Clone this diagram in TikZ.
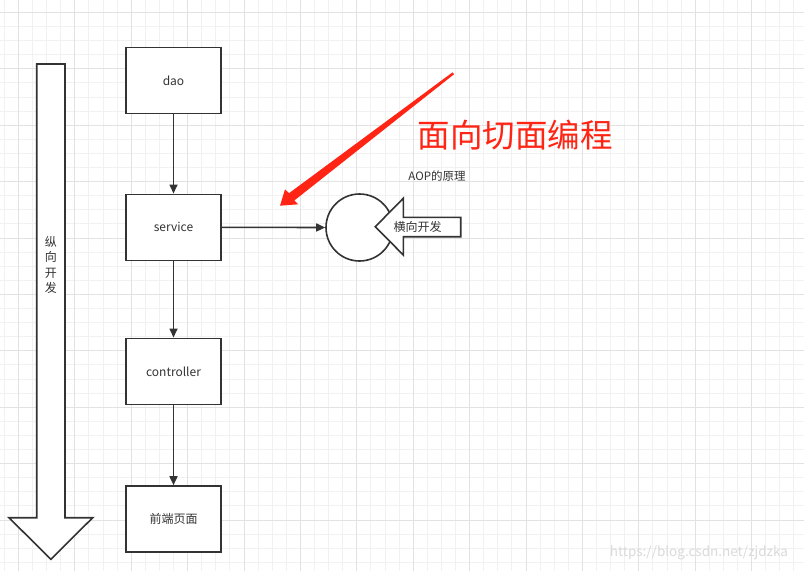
\documentclass[tikz,border=0pt]{standalone}
\usepackage{fontspec}
\setmainfont{Noto Sans CJK SC}
\usetikzlibrary{arrows.meta}
\definecolor{ink}{HTML}{333333}
\definecolor{gridminor}{HTML}{F1F1F1}
\definecolor{gridmajor}{HTML}{E2E2E2}
\definecolor{annot}{HTML}{FF2414}
\definecolor{wmark}{HTML}{DADADA}
\tikzset{
  box/.style={draw=ink, line width=1.6pt, fill=white, minimum width=95pt, minimum height=66pt, inner sep=0pt, text=ink, font=\fontsize{12}{14}\selectfont},
  conn/.style={draw=ink, line width=1.6pt, -{Triangle[length=9pt,width=8pt]}},
  shapeline/.style={draw=ink, line width=1.6pt, fill=white, line join=miter},
  lbl/.style={text=ink, inner sep=0pt, font=\fontsize{12}{14}\selectfont},
}
\begin{document}
\begin{tikzpicture}[x=1pt,y=-1pt]
\useasboundingbox (0,0) rectangle (804,571);
\fill[white] (0,0) rectangle (804,571);
% grid
\foreach \i in {0,...,57} {\draw[gridminor, line width=0.8pt] ({4.2+14.1*\i},0) -- ++(0,571);}
\foreach \i in {0,...,40} {\draw[gridminor, line width=0.8pt] (0,{12.3+14.1*\i}) -- ++(804,0);}
\foreach \i in {0,...,13} {\draw[gridmajor, line width=0.8pt] ({18.3+56.4*\i},0) -- ++(0,571);}
\foreach \i in {0,...,9} {\draw[gridmajor, line width=0.8pt] (0,{12.3+56.4*\i}) -- ++(804,0);}

% big vertical arrow
\draw[shapeline] (36.7,64) -- (65,64) -- (65,517.7) -- (92.7,517.7) -- (50.85,559.3) -- (9,517.7) -- (36.7,517.7) -- cycle;
\node[lbl, align=center, font=\fontsize{12}{15.5}\selectfont] (vtext) at (50.85,265) {纵\\向\\开\\发};

% boxes
\node[box] (dao) at (173.5,80.3) {dao};
\node[box] (service) at (173.5,227.3) {service};
\node[box] (controller) at (173.5,371.3) {controller};
\node[box] (front) at (173.5,519) {前端页面};

\draw[conn] (dao) -- (service);
\draw[conn] (service) -- (controller);
\draw[conn] (controller) -- (front);

% circle and connector
\node[circle, draw=ink, line width=1.6pt, fill=white, minimum size=67pt, inner sep=0pt] (aop) at (359.5,227.5) {};
\draw[conn] (service.east) -- (aop.west);

% horizontal arrow
\draw[shapeline] (375.3,226.7) -- (403.3,198.3) -- (403.3,217.3) -- (460.7,217.3) -- (460.7,236.7) -- (403.3,236.7) -- (403.3,255) -- cycle;
\node[lbl] (heng) at (417.7,227) {横向开发};

% labels
\node[lbl, font=\fontsize{11.5}{13}\selectfont] (aoplabel) at (437,176) {AOP的原理};
\node[text=annot, inner sep=0pt, font=\fontsize{32.5}{36}\selectfont] (title) at (515,135) {面向切面编程};

% red annotation arrow
\fill[annot] (280,205.7) -- (285,189.3) -- (289,193.2) -- (452.6,72.3) -- (454,74.3) -- (294.4,200.4) -- (298.3,204.3) -- cycle;

% watermark
\node[text=wmark, inner sep=0pt, font=\fontsize{13.5}{15}\selectfont] (wm) at (699,553) {https://blog.csdn.net/zjdzka};
\end{tikzpicture}
\end{document}
